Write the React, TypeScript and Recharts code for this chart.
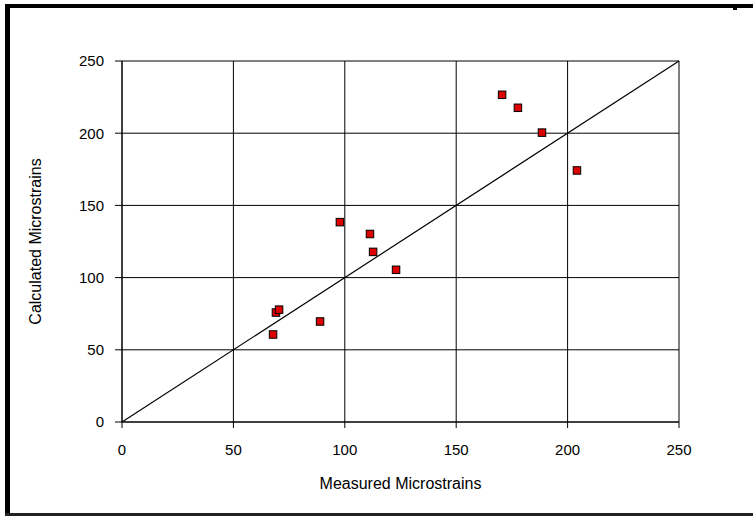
import React from "react";
import {
  ScatterChart,
  Scatter,
  XAxis,
  YAxis,
  CartesianGrid,
  ReferenceLine,
} from "recharts";

const measured = [170.6, 177.7, 188.5, 204.2, 97.8, 111.3, 112.7, 123.0, 88.9, 69.1, 70.5, 67.8];
const calculated = [226.6, 217.6, 200.4, 174.2, 138.4, 130.2, 117.8, 105.4, 69.6, 75.8, 77.8, 60.6];
const ticks = [0, 50, 100, 150, 200, 250];
const diagonal = [
  { x: 0, y: 0 },
  { x: 250, y: 250 },
];

const points = measured.map((m, i) => ({ x: m, y: calculated[i] }));

const FONT = "'Liberation Sans', Arial, sans-serif";

const SquareMarker = (props: any) => {
  const { cx, cy } = props;
  if (cx == null || cy == null) return null;
  const s = 7.5;
  return (
    <rect
      x={cx - s / 2}
      y={cy - s / 2}
      width={s}
      height={s}
      fill="#DD0000"
      stroke="#000"
      strokeWidth={1}
    />
  );
};

export default function App() {
  return (
    <div
      style={{
        position: "absolute",
        left: 0,
        top: 0,
        width: 753,
        height: 518,
        background: "#fff",
        fontFamily: FONT,
      }}
    >
      <div style={{ position: "absolute", left: 5, top: 4, width: 748, height: 4, background: "#000" }} />
      <div style={{ position: "absolute", left: 5, top: 4, width: 5, height: 512, background: "#000" }} />
      <div style={{ position: "absolute", left: 5, top: 513, width: 748, height: 3, background: "#222" }} />
      <div style={{ position: "absolute", left: 733, top: 4, width: 4, height: 6, background: "#000" }} />
      <div style={{ position: "absolute", left: 0, top: 0 }}>
        <ScatterChart
          width={753}
          height={518}
          margin={{ top: 61, right: 74, bottom: 26, left: 32 }}
        >
          <CartesianGrid stroke="#000" strokeWidth={1} />
          <XAxis
            type="number"
            dataKey="x"
            domain={[0, 250]}
            ticks={ticks}
            allowDataOverflow
            height={70}
            tickSize={6}
            tickMargin={16}
            axisLine={{ stroke: "#000" }}
            tickLine={{ stroke: "#000" }}
            tick={{ fill: "#000", fontSize: 15, fontFamily: FONT }}
            label={{
              value: "Measured Microstrains",
              position: "insideBottom",
              offset: 3,
              fill: "#000",
              fontSize: 16,
              fontFamily: FONT,
            }}
          />
          <YAxis
            type="number"
            dataKey="y"
            domain={[0, 250]}
            ticks={ticks}
            allowDataOverflow
            width={90}
            tickSize={7}
            tickMargin={11}
            axisLine={{ stroke: "#000" }}
            tickLine={{ stroke: "#000" }}
            tick={{ fill: "#000", fontSize: 15, fontFamily: FONT }}
            label={{
              value: "Calculated Microstrains",
              angle: -90,
              position: "insideLeft",
              offset: 3,
              fill: "#000",
              fontSize: 16,
              fontFamily: FONT,
              style: { textAnchor: "middle" },
            }}
          />
          <ReferenceLine
            segment={diagonal}
            stroke="#000"
            strokeWidth={1.2}
            ifOverflow="visible"
          />
          <Scatter
            data={points}
            shape={SquareMarker}
            isAnimationActive={false}
          />
        </ScatterChart>
      </div>
    </div>
  );
}
